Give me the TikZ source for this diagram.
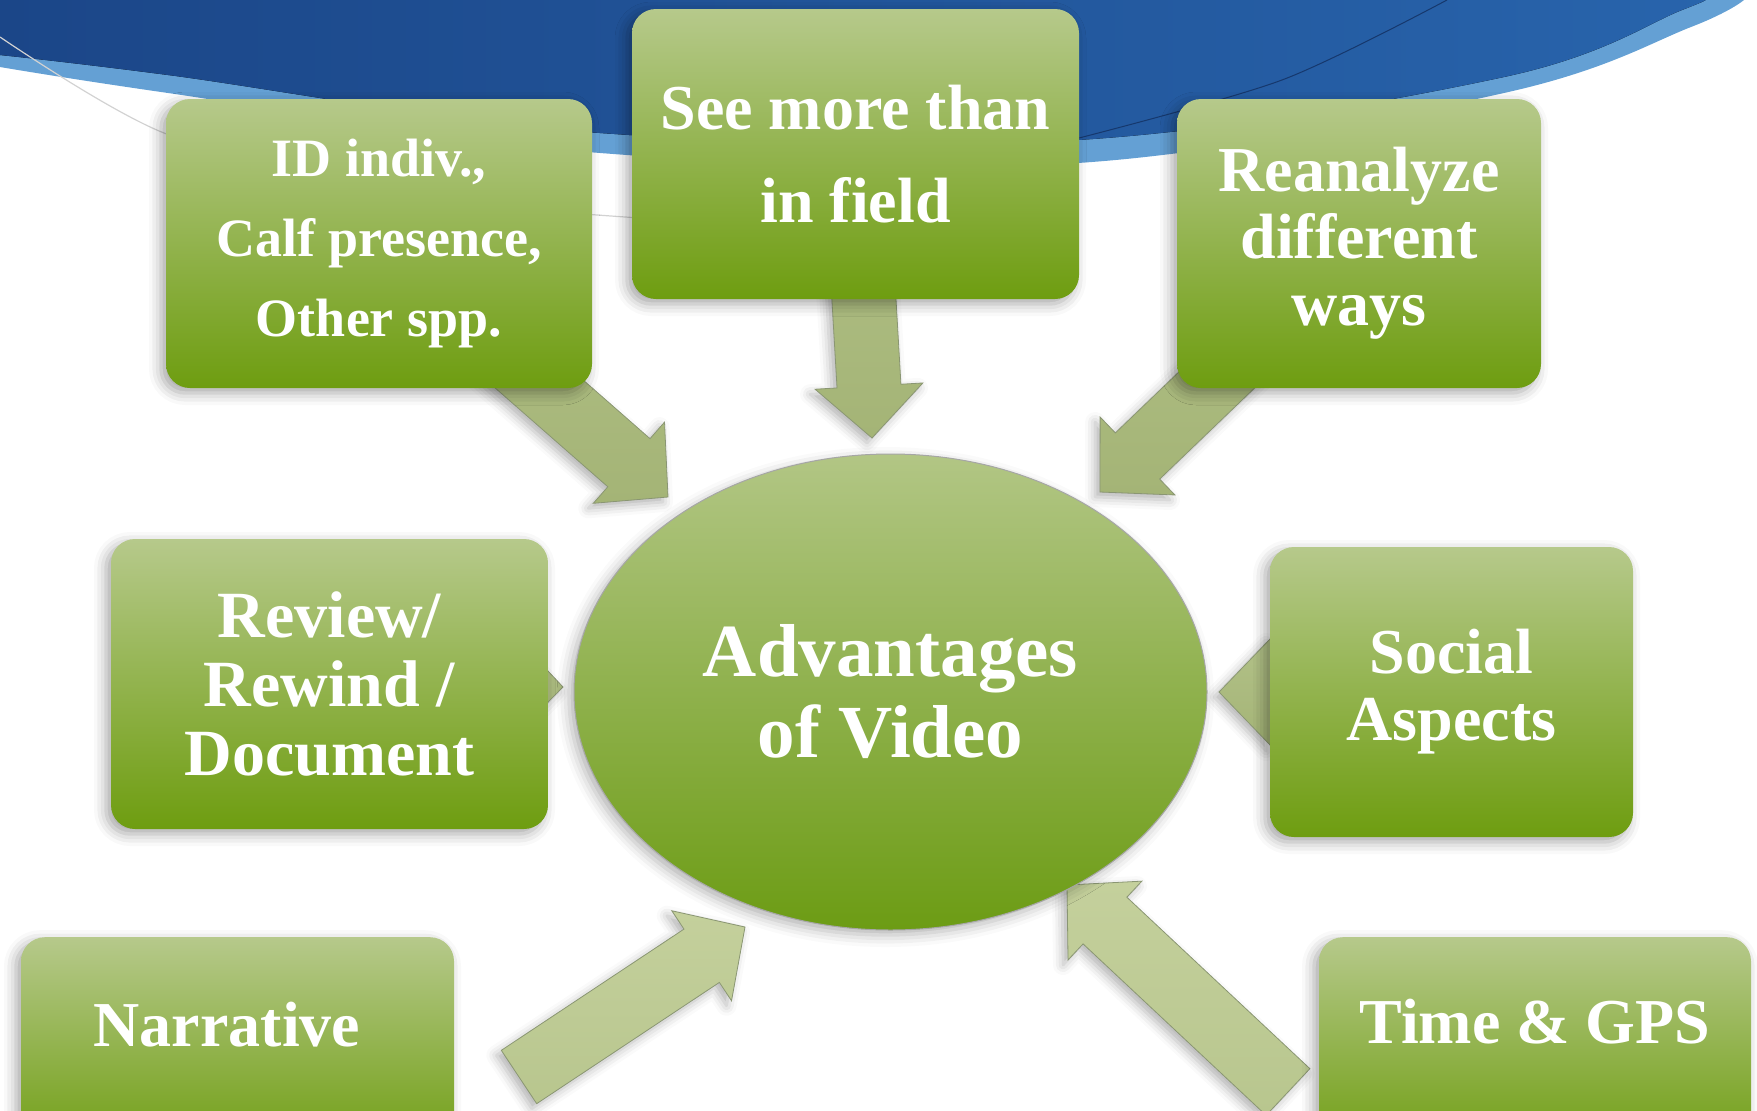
\documentclass[tikz,border=0pt]{standalone}
\usepackage{fontspec}
\setmainfont{Liberation Serif}
\usetikzlibrary{shapes.geometric,calc,shadows.blur}

\definecolor{bannerdark}{RGB}{27,70,136}
\definecolor{bannermid}{RGB}{58,124,184}
\definecolor{bannerright}{RGB}{40,100,172}
\definecolor{bannerlight}{RGB}{100,160,212}
\definecolor{boxtop}{RGB}{182,201,139}
\definecolor{boxbot}{RGB}{110,157,16}
\definecolor{hubtop}{RGB}{178,198,133}
\definecolor{hubbot}{RGB}{108,156,20}
\definecolor{arrowline}{RGB}{138,150,115}
\definecolor{darktop}{RGB}{178,193,136}
\definecolor{darkbot}{RGB}{164,180,118}
\definecolor{lighttop}{RGB}{196,208,156}
\definecolor{lightbot}{RGB}{184,198,142}

\pgfdeclarelayer{background}
\pgfsetlayers{background,main}

\tikzset{
  every box/.style={rectangle, rounded corners=24pt, inner sep=0pt,
    top color=boxtop, bottom color=boxbot, text=white, align=center,
    font={\fontsize{64}{68}\selectfont\bfseries},
    blur shadow={shadow xshift=-5pt, shadow yshift=-5pt,
      shadow blur radius=12pt, shadow opacity=35}},
  box text/.style={text=white, inner sep=0pt,
    font={\fontsize{64}{68}\selectfont\bfseries}},
  hub/.style={ellipse, inner sep=0pt, minimum width=633pt,
    minimum height=476pt, top color=hubtop, bottom color=hubbot,
    draw=gray!70, line width=1pt, text=white, align=center,
    font={\fontsize{75}{81}\selectfont\bfseries},
    blur shadow={shadow xshift=-5pt, shadow yshift=-5pt,
      shadow blur radius=12pt, shadow opacity=30}},
  every arrow/.style={draw=arrowline, line width=0.8pt,
    blur shadow={shadow xshift=-5pt, shadow yshift=-5pt,
      shadow blur radius=10pt, shadow opacity=30}},
  arrow dark/.style={top color=darktop, bottom color=darkbot},
  arrow light/.style={top color=lighttop, bottom color=lightbot}
}

% block arrow from #2 to #3
\newcommand\blockarrow[3][]{%
  \coordinate (arrow-base) at ($(#3)!52pt!(#2)$);
  \path[every arrow,#1]
    ($(#2)!32pt!90:(#3)$) -- ($(arrow-base)!32pt!90:(#3)$)
    -- ($(arrow-base)!54pt!90:(#3)$) -- (#3)
    -- ($(arrow-base)!54pt!-90:(#3)$) -- ($(arrow-base)!32pt!-90:(#3)$)
    -- ($(#2)!32pt!-90:(#3)$) -- cycle;}

\begin{document}
\begin{tikzpicture}[x=1pt, y=-1pt]
\useasboundingbox (0,0) rectangle (1757,1111);

% outer boxes
\node [every box, minimum width=426pt, minimum height=289pt,
  font={\fontsize{54}{80}\selectfont\bfseries}] (id) at (379,243.5)
  {ID indiv.,\\Calf presence,\\Other spp.};
\node [every box, minimum width=447pt, minimum height=290pt,
  font={\fontsize{64}{93}\selectfont\bfseries}] (see) at (855.5,154)
  {See more than\\in field};
\node [every box, minimum width=364pt, minimum height=289pt,
  font={\fontsize{64}{67}\selectfont\bfseries}] (re) at (1359,243.5)
  {Reanalyze\\different\\ways};
\node [every box, minimum width=437pt, minimum height=290pt,
  font={\fontsize{66}{69}\selectfont\bfseries}] (review) at (329.5,684)
  {Review/\\Rewind /\\Document};
\node [every box, minimum width=363pt, minimum height=290pt,
  font={\fontsize{64}{67}\selectfont\bfseries}] (social) at (1451.5,692)
  {Social\\Aspects};
\node [every box, anchor=north, minimum width=433pt, minimum height=220pt]
  (narr) at (237.5,937) {};
\node [box text] (narr-text) at (227,1025) {Narrative};
\node [every box, anchor=north, minimum width=432pt, minimum height=220pt]
  (time) at (1535,937) {};
\node [box text] (time-text) at (1535,1022) {Time \& GPS};

% centre
\node [hub] (adv) at (890.5,692) {Advantages\\of Video};

% arrow ends
\coordinate (id-tip) at (668,497);
\coordinate (see-tip) at (872,438);
\coordinate (re-tip) at (1100,492);
\coordinate (review-tip) at (563,687);
\coordinate (social-tip) at (1219,692);
\coordinate (narr-tail) at (519,1077);
\coordinate (narr-tip) at (745,927);
\coordinate (time-tail) at (1288,1092);
\coordinate (time-tip) at (1067,885);

\begin{pgfonlayer}{background}
  % banner
  \fill [bannerlight] (0,0) -- plot [smooth, tension=0.6] coordinates
    {(0,67) (168,93) (600,153) (1078,163) (1504,93) (1691,27) (1744,0)} -- cycle;
  \fill [left color=bannerdark, middle color=bannermid, right color=bannerright]
    (0,0) -- plot [smooth, tension=0.6] coordinates
    {(0,55) (168,75) (600,133) (1078,140) (1504,77) (1682,10) (1704,0)} -- cycle;
  \draw [gray!35, line width=1.2pt] plot [smooth] coordinates
    {(0,37) (164,133) (400,195) (640,218)};
  \draw [bannerdark!80!black, line width=1pt] plot [smooth] coordinates
    {(1079,138) (1282,80) (1447,0)};

  \foreach \s/\e/\k in {id/id-tip/dark, see/see-tip/dark, re/re-tip/dark,
      review/review-tip/dark, social/social-tip/dark,
      narr-tail/narr-tip/light, time-tail/time-tip/light}
    \blockarrow[arrow \k]{\s}{\e};
\end{pgfonlayer}

\end{tikzpicture}
\end{document}
